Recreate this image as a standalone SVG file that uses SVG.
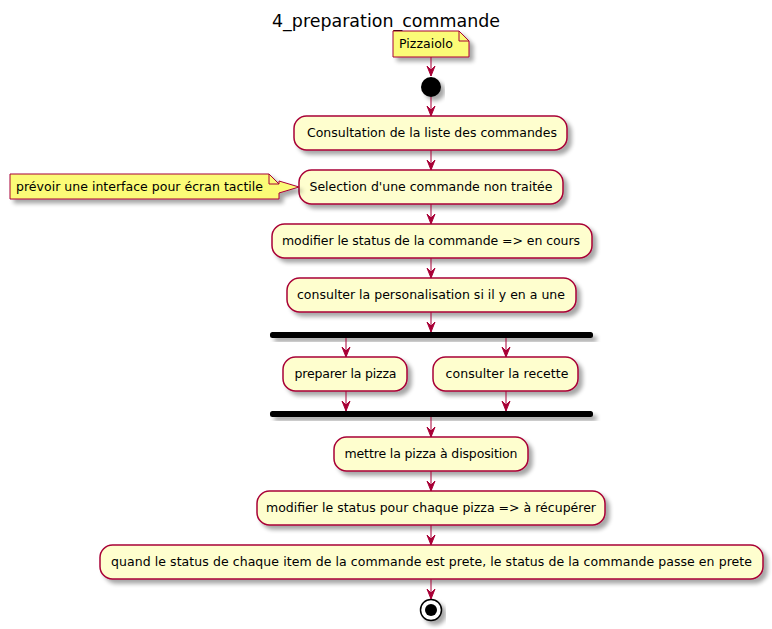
<svg xmlns="http://www.w3.org/2000/svg" width="772" height="629" viewBox="0 0 772 629">
<defs>
<filter id="sh" x="-20%" y="-40%" width="140%" height="200%">
<feGaussianBlur in="SourceAlpha" stdDeviation="2"/>
<feOffset dx="4" dy="4" result="b"/>
<feComponentTransfer in="b" result="c"><feFuncA type="linear" slope="0.35"/></feComponentTransfer>
<feMerge><feMergeNode in="c"/><feMergeNode in="SourceGraphic"/></feMerge>
</filter>
<marker id="ah" viewBox="0 0 10 10" refX="10" refY="5" markerWidth="10" markerHeight="10" markerUnits="userSpaceOnUse" orient="auto">
<path d="M0,1 L10,5 L0,9 L4,5 Z" fill="#A80036" stroke="#A80036" stroke-width="1"/>
</marker>
</defs>
<style>
.box{fill:#FEFECE;stroke:#A80036;stroke-width:1.5;filter:url(#sh)}
.note{fill:#FBFB77;stroke:#A80036;stroke-width:1;filter:url(#sh)}
.t{font-family:"DejaVu Sans",sans-serif;font-size:12.5px;fill:#000;text-anchor:middle}
.nt{font-family:"DejaVu Sans",sans-serif;font-size:12.5px;fill:#000}
.bar{fill:#000;filter:url(#sh)}
.c line{stroke:#A80036;stroke-width:1;marker-end:url(#ah)}
</style>
<rect width="772" height="629" fill="#fff"/>
<text x="386" y="27" font-family="DejaVu Sans,sans-serif" font-size="18" text-anchor="middle" fill="#000" textLength="228" lengthAdjust="spacingAndGlyphs">4_preparation_commande</text>

<g id="note_pizzaiolo">
<path class="note" d="M393,31 L459,31 L469,41 L469,57 L393,57 Z"/>
<path d="M459,31 L459,41 L469,41" fill="none" stroke="#A80036" stroke-width="1"/>
<text class="nt" x="399" y="48" textLength="54" lengthAdjust="spacing">Pizzaiolo</text>
</g>

<g id="start"><circle cx="431" cy="87" r="10" fill="#000" filter="url(#sh)"/></g>

<g id="n1"><rect class="box" x="294" y="116" width="273" height="34" rx="12.5"/><text class="t" x="432" y="137" textLength="250" lengthAdjust="spacing">Consultation de la liste des commandes</text></g>
<g id="n2"><rect class="box" x="299" y="170" width="264" height="34" rx="12.5"/><text class="t" x="431" y="191" textLength="243" lengthAdjust="spacing">Selection d'une commande non traitée</text></g>
<g id="note_tactile">
<path class="note" d="M10,174 L269,174 L279,184 L279,181 L299,187 L279,193 L279,199 L10,199 Z"/>
<path d="M269,174 L269,184 L279,184" fill="none" stroke="#A80036" stroke-width="1"/>
<text class="nt" x="16" y="191" textLength="247" lengthAdjust="spacing">prévoir une interface pour écran tactile</text>
</g>
<g id="n3"><rect class="box" x="272" y="224" width="320" height="34" rx="12.5"/><text class="t" x="431" y="245" textLength="298" lengthAdjust="spacing">modifier le status de la commande =&gt; en cours</text></g>
<g id="n4"><rect class="box" x="287" y="278" width="289" height="34" rx="12.5"/><text class="t" x="431" y="299" textLength="268" lengthAdjust="spacing">consulter la personalisation si il y en a une</text></g>
<g id="fork"><rect class="bar" x="270" y="332" width="323" height="6" rx="2.5"/></g>
<g id="n5"><rect class="box" x="283" y="357" width="124" height="34" rx="12.5"/><text class="t" x="345.5" y="378" textLength="102" lengthAdjust="spacing">preparer la pizza</text></g>
<g id="n6"><rect class="box" x="433" y="357" width="145" height="34" rx="12.5"/><text class="t" x="507" y="378" textLength="123" lengthAdjust="spacing">consulter la recette</text></g>
<g id="join"><rect class="bar" x="270" y="411" width="323" height="6" rx="2.5"/></g>
<g id="n7"><rect class="box" x="334" y="437" width="194" height="34" rx="12.5"/><text class="t" x="431" y="458" textLength="173" lengthAdjust="spacing">mettre la pizza à disposition</text></g>
<g id="n8"><rect class="box" x="257" y="491" width="348" height="34" rx="12.5"/><text class="t" x="431" y="512" textLength="330" lengthAdjust="spacing">modifier le status pour chaque pizza =&gt; à récupérer</text></g>
<g id="n9"><rect class="box" x="100" y="545" width="663" height="34" rx="12.5"/><text class="t" x="431.5" y="566" textLength="641" lengthAdjust="spacing">quand le status de chaque item de la commande est prete, le status de la commande passe en prete</text></g>
<g id="end"><circle cx="431" cy="610" r="10.5" fill="#fff" stroke="#000" stroke-width="1.5" filter="url(#sh)"/><circle cx="431" cy="610" r="6" fill="#000"/></g>

<g id="connectors" class="c">
<line x1="431" y1="57" x2="431" y2="76"/>
<line x1="431" y1="97" x2="431" y2="116"/>
<line x1="431" y1="150" x2="431" y2="170"/>
<line x1="431" y1="204" x2="431" y2="224"/>
<line x1="431" y1="258" x2="431" y2="278"/>
<line x1="431" y1="312" x2="431" y2="332"/>
<line x1="346" y1="338" x2="346" y2="357"/>
<line x1="506" y1="338" x2="506" y2="357"/>
<line x1="346" y1="391" x2="346" y2="411"/>
<line x1="506" y1="391" x2="506" y2="411"/>
<line x1="431" y1="417" x2="431" y2="437"/>
<line x1="431" y1="471" x2="431" y2="491"/>
<line x1="431" y1="525" x2="431" y2="545"/>
<line x1="431" y1="579" x2="431" y2="599"/>
</g>
</svg>
